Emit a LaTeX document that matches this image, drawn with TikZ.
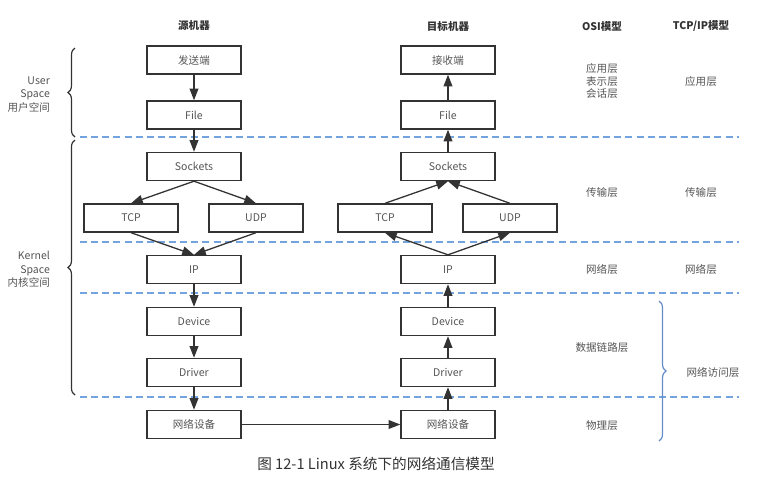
\documentclass[tikz,border=0pt]{standalone}
\usepackage{fontspec}
\setmainfont{Noto Sans CJK SC}
\usetikzlibrary{arrows.meta,decorations.pathreplacing}
\definecolor{linegray}{RGB}{51,51,51}
\definecolor{textgray}{RGB}{85,85,85}
\definecolor{dashblue}{RGB}{116,164,224}
\definecolor{braceblue}{RGB}{100,140,200}
\begin{document}
\begin{tikzpicture}[x=0.03cm,y=-0.03cm,
  box/.style={draw=linegray,line width=1.2pt,minimum width=2.82cm,minimum height=0.84cm,
    inner sep=0pt,text=textgray,font=\fontsize{9}{11}\selectfont},
  lbl/.style={text=textgray,font=\fontsize{9}{11}\selectfont,align=center},
  hdr/.style={text=linegray,font=\fontsize{9}{11}\selectfont\bfseries},
  arr/.style={draw=linegray,line width=1.1pt,-{Triangle[length=10pt,width=7.5pt]}},
  sep/.style={draw=dashblue,line width=1.1pt,dash pattern=on 6pt off 3.5pt},
  lbrace/.style={draw=linegray,line width=1pt,decorate,decoration={brace,amplitude=6pt}},
  rbrace/.style={draw=braceblue,line width=1pt,decorate,decoration={brace,amplitude=6pt}}]
\useasboundingbox (0,0) rectangle (774,490);
% layer separators
\draw[sep] (80,137) -- (739,137);
\draw[sep] (80,242) -- (739,242);
\draw[sep] (80,293) -- (739,293);
\draw[sep] (80,397) -- (739,397);
% headings
\node[hdr] (hsrc) at (194,26) {源机器};
\node[hdr] (hdst) at (448,26) {目标机器};
\node[hdr] (hosi) at (602,26) {OSI模型};
\node[hdr] (htcpip) at (701,26) {TCP/IP模型};
% source machine
\node[box] (src) at (194,60) {发送端};
\node[box] (srcfile) at (194,115) {File};
\node[box] (srcsock) at (194,166.5) {Sockets};
\node[box] (srctcp) at (131,218) {TCP};
\node[box] (srcudp) at (256,218) {UDP};
\node[box] (srcip) at (194,269.5) {IP};
\node[box] (srcdev) at (194,321.5) {Device};
\node[box] (srcdrv) at (194,372.5) {Driver};
\node[box] (srcnic) at (194,424.5) {网络设备};
% target machine
\node[box] (dst) at (448,60) {接收端};
\node[box] (dstfile) at (448,115) {File};
\node[box] (dstsock) at (448,166.5) {Sockets};
\node[box] (dsttcp) at (385,218) {TCP};
\node[box] (dstudp) at (510,218) {UDP};
\node[box] (dstip) at (448,269.5) {IP};
\node[box] (dstdev) at (448,321.5) {Device};
\node[box] (dstdrv) at (448,372.5) {Driver};
\node[box] (dstnic) at (448,424.5) {网络设备};
% downward path
\draw[arr] (src) -- (srcfile);
\draw[arr] (srcfile) -- (srcsock);
\draw[arr] (srcsock.south) -- (srctcp.north);
\draw[arr] (srcsock.south) -- (srcudp.north);
\draw[arr] (srctcp.south) -- (srcip.north);
\draw[arr] (srcudp.south) -- (srcip.north);
\draw[arr] (srcip) -- (srcdev);
\draw[arr] (srcdev) -- (srcdrv);
\draw[arr] (srcdrv) -- (srcnic);
\draw[arr] (srcnic) -- (dstnic);
% upward path
\draw[arr] (dstnic) -- (dstdrv);
\draw[arr] (dstdrv) -- (dstdev);
\draw[arr] (dstdev) -- (dstip);
\draw[arr] (dstip.north) -- (dsttcp.south);
\draw[arr] (dstip.north) -- (dstudp.south);
\draw[arr] (dsttcp.north) -- (dstsock.south);
\draw[arr] (dstudp.north) -- (dstsock.south);
\draw[arr] (dstsock) -- (dstfile);
\draw[arr] (dstfile) -- (dst);
% left braces
\draw[lbrace] (75,137) -- (75,48);
\draw[lbrace] (75,395) -- (75,140);
\node[lbl,anchor=east,align=right,font=\fontsize{9}{11.5}\selectfont] (user) at (54,94.5) {User\\Space\\用户空间};
\node[lbl,anchor=east,align=right,font=\fontsize{9}{11.5}\selectfont] (kernel) at (54,269.5) {Kernel\\Space\\内核空间};
% layer names
\node[lbl] (osiapp) at (602,81) {应用层\\表示层\\会话层};
\node[lbl] (tcpapp) at (701,81) {应用层};
\node[lbl] (ositrans) at (602,193) {传输层};
\node[lbl] (tcptrans) at (701,193) {传输层};
\node[lbl] (osinet) at (602,269) {网络层};
\node[lbl] (tcpnet) at (701,269) {网络层};
\node[lbl] (osilink) at (602,348) {数据链路层};
\node[lbl] (osiphy) at (602,426) {物理层};
\draw[rbrace] (659,301) -- (659,441);
\node[lbl] (tcpacc) at (713,372) {网络访问层};
% caption
\node[text=linegray,font=\fontsize{12.5}{15}\selectfont] (cap) at (376,464) {图 12-1 Linux 系统下的网络通信模型};
\end{tikzpicture}
\end{document}
